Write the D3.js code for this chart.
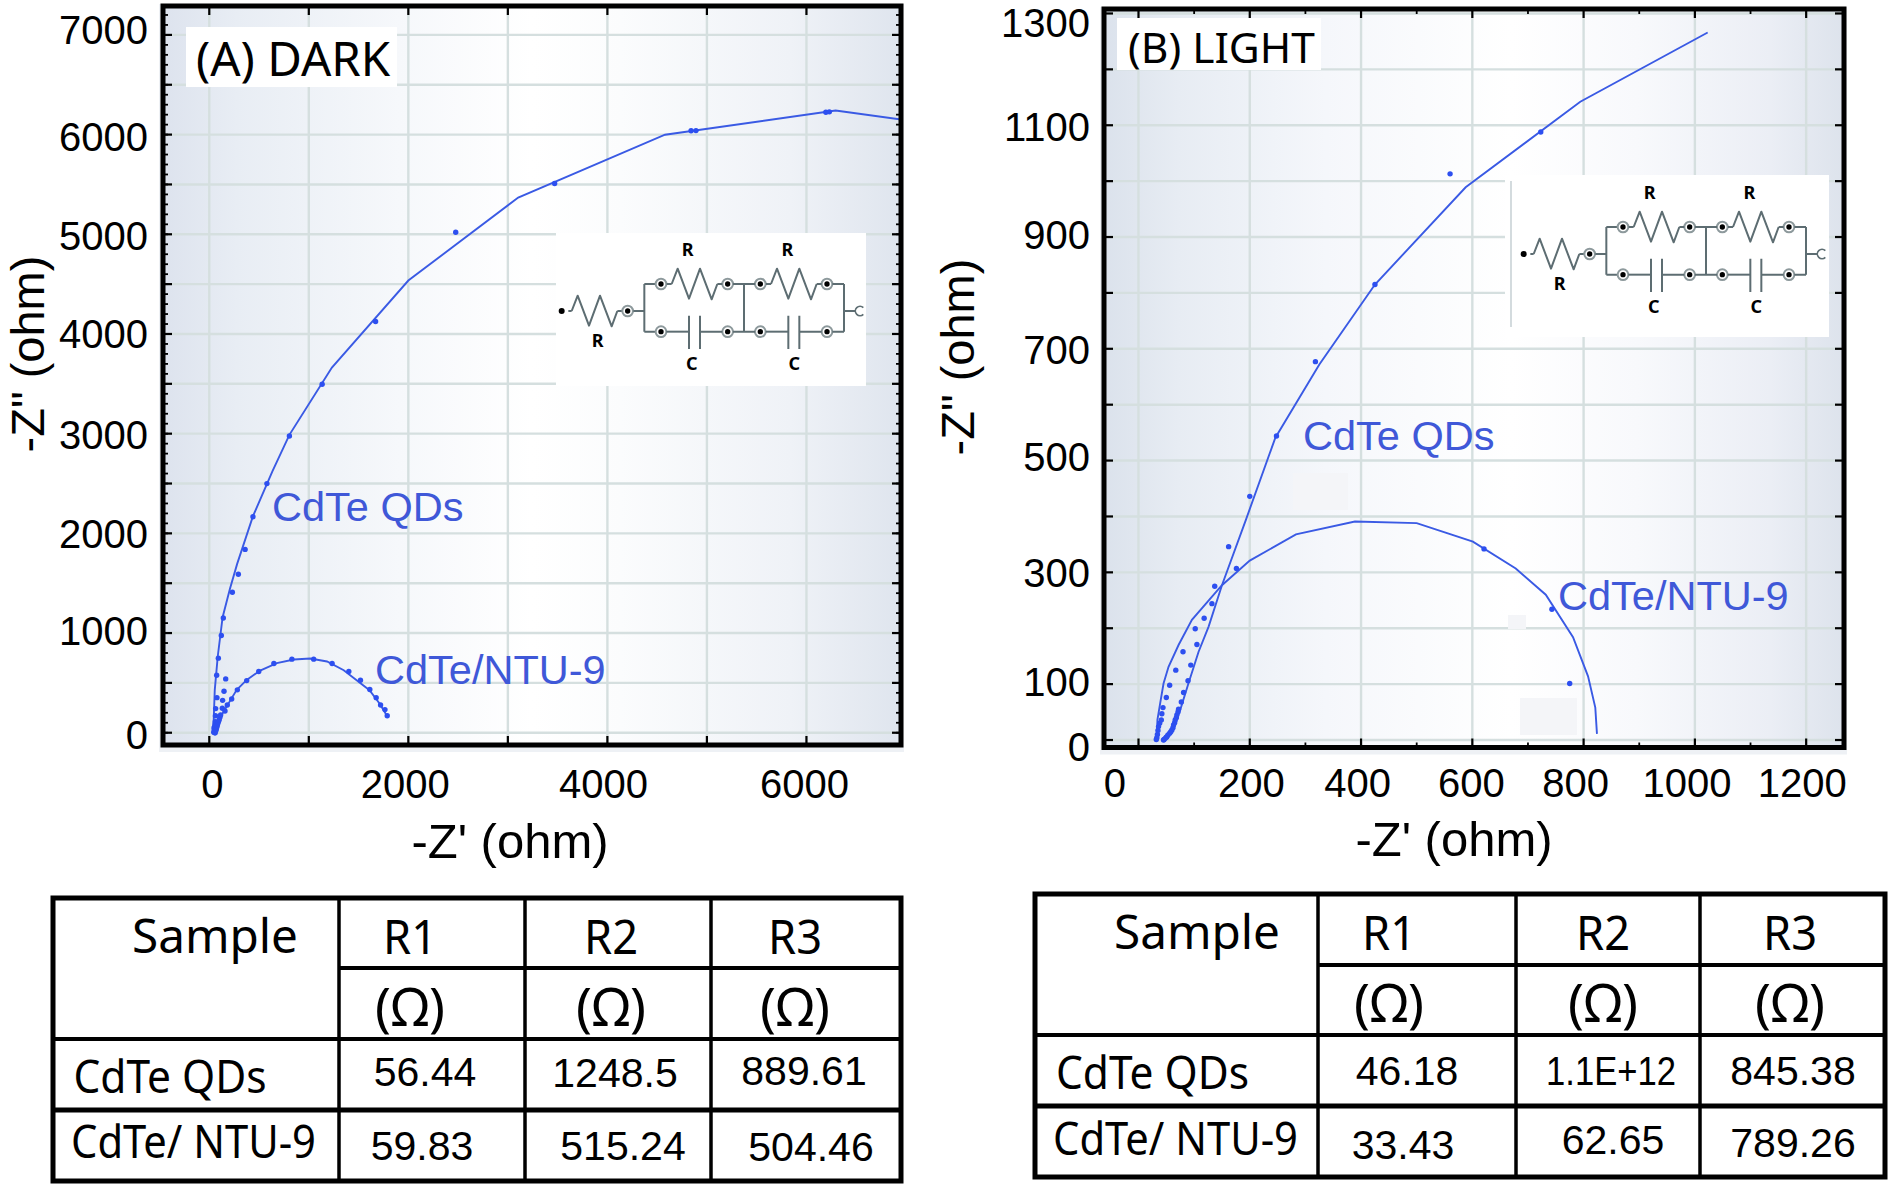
<!DOCTYPE html>
<html lang="en">
<head>
<meta charset="UTF-8">
<title>CdTe impedance</title>
<style>
  html, body { margin: 0; background: #fff; }
  svg { display: block; }
  text { font-family: "Liberation Sans", Arial, sans-serif; fill: #000; }
  .calibri { font-family: "Noto Sans", sans-serif; }
</style>
</head>
<body>
<svg id="chart" width="1890" height="1187"></svg>
<script src="https://d3js.org/d3.v7.min.js"></script>
<script>
// values, [Z', Z'']
const darkQdsFit = [[40,0],[45,146],[55,428],[85,765],[134,1159],[207,1441],[280,1694],[439,2172],[634,2622],[805,2988],[1232,3663],[2000,4536],[3104,5369],[4579,5999],[6293,6241],[7100,6130]]
const darkQdsPts = [[57,0],[52,10],[50,30],[48,50],[55,60],[58,85],[60,110],[62,170],[64,242],[77,352],[74,577],[91,748],[121,976],[141,1151],[232,1409],[292,1590],[360,1839],[439,2167],[579,2499],[805,2977],[1134,3495],[1671,4125],[2476,5020],[3470,5509],[4841,6038],[4890,6040],[6195,6224],[6230,6228]]
const darkNtuFit = [[57,0],[91,94],[124,178],[192,292],[276,430],[376,530],[511,624],[679,698],[850,735],[1014,745],[1183,715],[1351,627],[1610,426],[1714,288],[1785,171]]
const darkNtuPts = [[45,5],[58,0],[65,20],[70,35],[75,55],[80,72],[85,90],[92,110],[100,130],[107,155],[114,178],[165,540],[148,416],[134,325],[131,245],[158,218],[181,278],[225,339],[282,430],[376,523],[497,614],[649,695],[830,738],[1049,738],[1234,695],[1402,614],[1519,527],[1613,433],[1677,352],[1721,278],[1765,232],[1788,171]]

const lightQdsFit = [[45,0],[60,17],[75,54],[90,102],[108,158],[126,203],[150,277],[193,394],[246,541],[325,672],[425,815],[588,989],[794,1142],[1023,1266]]
const lightQdsPts = [[45,0],[46,1],[48,3],[50,5],[51,6],[53,9],[56,12],[58,15],[60,18],[62,22],[63,27],[65,31],[66,36],[68,40],[69,45],[71,50],[72,55],[77,68],[81,85],[89,106],[94,134],[105,171],[132,244],[162,346],[200,436],[248,544],[318,677],[425,815],[560,1013],[723,1088]]
const lightNtuFit = [[33,6],[34,36],[39,66],[45,101],[54,131],[72,170],[96,215],[150,277],[200,321],[283,368],[389,391],[500,388],[601,355],[678,307],[732,260],[781,184],[808,114],[821,58],[824,11]]
const lightNtuPts = [[32,1],[33,4],[34,10],[35,17],[36,24],[38,30],[41,36],[42,47],[44,58],[50,76],[56,98],[67,125],[80,158],[102,199],[118,218],[137,275],[176,307],[621,342],[743,234],[775,101]]

const darkXLabels = [0, 2000, 4000, 6000]
const darkYLabels = [0, 1000, 2000, 3000, 4000, 5000, 6000, 7000]
const lightXLabels = [0, 200, 400, 600, 800, 1000, 1200]
const lightYLabels = [0, 100, 300, 500, 700, 900, 1100, 1300]

const samples = ['CdTe QDs', 'CdTe/ NTU-9']
const tableHead = ['R1', 'R2', 'R3']
const unitHead = '(Ω)'
const darkResist = [['56.44', '1248.5', '889.61'], ['59.83', '515.24', '504.46']]
const lightResist = [['46.18', '1.1E+12', '845.38'], ['33.43', '62.65', '789.26']]

const svg = d3.select('#chart')
const defs = svg.append('defs')
const LINE = '#3a5ae4', DOT = '#2d4ff0', LABEL = '#3f58d8', GRID = '#d5dfdf'

function gradient(id, stops) {
  const g = defs.append('linearGradient').attr('id', id)
  stops.forEach(s => g.append('stop').attr('offset', s[0]).attr('stop-color', s[1]))
}
gradient('bgA', [[0, '#dde3ee'], [0.1, '#e8edf4'], [0.32, '#f6f8fb'], [0.5, '#ffffff'], [0.62, '#fbfcfd'], [0.85, '#eff2f7'], [1, '#dfe5ee']])
gradient('bgB', [[0, '#dbe2ec'], [0.1, '#e7ecf3'], [0.3, '#f5f7fb'], [0.55, '#ffffff'], [0.72, '#f8f9fc'], [0.9, '#ebeef5'], [1, '#dde3ec']])

function panel(o) {
  const g = svg.append('g')
  const x = d3.scaleLinear().domain(o.xDomain).range([o.left, o.right])
  const y = d3.scaleLinear().domain(o.yDomain).range([o.bottom, o.top])

  // pale halo around the frame, then the plot background
  g.append('rect').attr('x', o.left - 4).attr('y', o.top - 2).attr('width', o.right - o.left + 7)
    .attr('height', o.bottom - o.top + 9).attr('fill', '#eef1f5')
  g.append('rect').attr('x', o.left).attr('y', o.top).attr('width', o.right - o.left)
    .attr('height', o.bottom - o.top).attr('fill', `url(#${o.bg})`)

  const clipId = 'clip' + o.bg
  defs.append('clipPath').attr('id', clipId).append('rect')
    .attr('x', o.left).attr('y', o.top).attr('width', o.right - o.left).attr('height', o.bottom - o.top)

  // grid
  const grid = g.append('g').attr('stroke', GRID).attr('stroke-width', 2.4)
  grid.selectAll('.gx').data(o.xGrid).join('line').attr('class', 'gx')
    .attr('x1', d => x(d)).attr('x2', d => x(d)).attr('y1', o.top).attr('y2', o.bottom)
  grid.selectAll('.gy').data(o.yGrid).join('line').attr('class', 'gy')
    .attr('y1', d => y(d)).attr('y2', d => y(d)).attr('x1', o.left).attr('x2', o.right)

  // inset and label boxes sit on the grid
  g.append('rect').attr('x', o.inset[0]).attr('y', o.inset[1]).attr('width', o.inset[2]).attr('height', o.inset[3]).attr('fill', '#fff')
  g.append('rect').attr('x', o.box[0]).attr('y', o.box[1]).attr('width', o.box[2]).attr('height', o.box[3]).attr('fill', '#fff')
  ;(o.patches || []).forEach(p => g.append('rect').attr('x', p[0]).attr('y', p[1]).attr('width', p[2]).attr('height', p[3]).attr('fill', '#f4f5f8'))
  if (o.insetRule) g.append('line').attr('x1', o.insetRule).attr('x2', o.insetRule).attr('y1', o.inset[1] + 6).attr('y2', o.inset[1] + o.inset[3] - 10).attr('stroke', '#c9d2d6').attr('stroke-width', 1.6)

  // series
  const line = d3.line().x(d => x(d[0])).y(d => y(d[1]))
  const plot = g.append('g').attr('clip-path', `url(#${clipId})`)
  o.fits.forEach(f => plot.append('path').attr('d', line(f)).attr('fill', 'none').attr('stroke', LINE).attr('stroke-width', 1.9))
  o.points.forEach(p => plot.append('g').selectAll('circle').data(p).join('circle')
    .attr('cx', d => x(d[0])).attr('cy', d => y(d[1])).attr('r', 2.7).attr('fill', DOT))

  // ticks on all four sides, inward
  const ticks = g.append('g').attr('stroke', '#000')
  const tick = (vals, len, width) => {
    vals.forEach(v => {
      if (x(v) > o.left + 1 && x(v) < o.right - 1) {
        ticks.append('line').attr('x1', x(v)).attr('x2', x(v)).attr('y1', o.bottom).attr('y2', o.bottom - len).attr('stroke-width', width)
        ticks.append('line').attr('x1', x(v)).attr('x2', x(v)).attr('y1', o.top).attr('y2', o.top + len).attr('stroke-width', width)
      }
    })
  }
  const ytick = (vals, len, width) => {
    vals.forEach(v => {
      if (y(v) < o.bottom - 1 && y(v) > o.top + 1) {
        ticks.append('line').attr('y1', y(v)).attr('y2', y(v)).attr('x1', o.left).attr('x2', o.left + len).attr('stroke-width', width)
        ticks.append('line').attr('y1', y(v)).attr('y2', y(v)).attr('x1', o.right).attr('x2', o.right - len).attr('stroke-width', width)
      }
    })
  }
  tick(o.xGrid, 9, 2.2)
  tick(o.xMinor, 5, 1.8)
  ytick(o.yGrid, 9, 2.2)
  ytick(o.yMinor, 5, 1.8)

  g.append('rect').attr('x', o.left).attr('y', o.top).attr('width', o.right - o.left)
    .attr('height', o.bottom - o.top).attr('fill', 'none').attr('stroke', '#000').attr('stroke-width', 5)

  // tick labels were placed by hand in the original, so each has a small nudge
  g.selectAll('.xl').data(o.xLabels).join('text').attr('class', 'xl')
    .attr('x', (d, i) => x(d) + o.xNudge[i]).attr('y', o.xLabelY).attr('text-anchor', 'middle')
    .attr('dominant-baseline', 'central').attr('font-size', 40).text(d => d)
  g.selectAll('.yl').data(o.yLabels).join('text').attr('class', 'yl')
    .attr('x', o.yLabelX).attr('y', (d, i) => y(d) + o.yNudge[i]).attr('text-anchor', 'end')
    .attr('dominant-baseline', 'central').attr('font-size', 40).text(d => d)

  g.append('text').attr('x', o.xTitle[0]).attr('y', o.xTitle[1]).attr('text-anchor', 'middle')
    .attr('dominant-baseline', 'central').attr('font-size', 49).text("-Z' (ohm)")
  g.append('text').attr('transform', `translate(${o.yTitle[0]},${o.yTitle[1]}) rotate(-90)`).attr('text-anchor', 'middle')
    .attr('dominant-baseline', 'central').attr('font-size', 47).text('-Z" (ohm)')

  g.append('text').attr('class', 'calibri').attr('x', o.tag[0]).attr('y', o.tag[1]).attr('font-size', o.tag[2])
    .attr('dominant-baseline', 'central').text(o.tagText)

  o.names.forEach(n => g.append('text').attr('x', n[1]).attr('y', n[2]).attr('font-size', 41.5)
    .attr('dominant-baseline', 'central').style('fill', LABEL).text(n[0]))

  circuit(g.append('g').attr('transform', `translate(${o.circuit[0]},${o.circuit[1]}) scale(${1 / 3})`))
}

// equivalent circuit, drawn on a 3x grid
function circuit(g) {
  const wire = '#5d6d72'
  const path = d => g.append('path').attr('d', d).attr('fill', 'none').attr('stroke', wire).attr('stroke-width', 6).attr('stroke-linejoin', 'round')
  const node = (cx, cy) => {
    g.append('circle').attr('cx', cx).attr('cy', cy).attr('r', 16).attr('fill', '#fff').attr('stroke', '#8d999c').attr('stroke-width', 6)
    g.append('circle').attr('cx', cx).attr('cy', cy).attr('r', 8).attr('fill', '#000')
  }
  const label = (t, cx, cy) => g.append('text').attr('class', 'calibri').attr('x', cx).attr('y', cy).attr('text-anchor', 'middle')
    .attr('dominant-baseline', 'central').attr('font-weight', 700).attr('font-size', 54).text(t)
  const zig = (sx, sy) => `M${sx},${sy}L${sx + 18},${sy - 46}L${sx + 52},${sy + 44}L${sx + 85},${sy - 46}L${sx + 120},${sy + 46}L${sx + 137},${sy}`

  g.append('circle').attr('cx', 65).attr('cy', 258).attr('r', 9).attr('fill', '#000')
  path('M85,258H95')
  path(zig(95, 258))
  path('M232,258H248')
  node(263, 258)
  path('M280,258H313M313,177V320M313,177H347M313,320H347')
  ;[0, 298].forEach(d => {
    node(363 + d, 177); node(563 + d, 177)
    node(363 + d, 320); node(563 + d, 320)
    path(zig(395 + d, 177))
    path(`M${532 + d},177H${547 + d}`)
    path(`M${379 + d},320H${447 + d}`)
    path(`M${447 + d},272V372M${480 + d},272V372M${480 + d},320H${547 + d}`)
    path(`M${380 + d},177H${395 + d}`)
  })
  path('M579,177H645M579,320H645M612,177V320M877,177H912M877,320H912M912,177V320M912,258H945')
  g.append('path').attr('d', 'M970,248A14,14 0 1 0 970,268').attr('fill', 'none').attr('stroke', wire).attr('stroke-width', 5)
  label('R', 443, 72); label('R', 742, 72); label('R', 173, 345); label('C', 455, 415); label('C', 763, 415)
}

function table(o, rows) {
  const g = svg.append('g')
  const rule = (x1, y1, x2, y2, w) => g.append('line').attr('x1', x1).attr('y1', y1).attr('x2', x2).attr('y2', y2).attr('stroke', '#000').attr('stroke-width', w)
  g.append('rect').attr('x', o.cols[0]).attr('y', o.rows[0]).attr('width', o.cols[4] - o.cols[0]).attr('height', o.rows[4] - o.rows[0])
    .attr('fill', '#fff').attr('stroke', '#000').attr('stroke-width', 5)
  o.cols.slice(1, 4).forEach(c => rule(c, o.rows[0], c, o.rows[4], 3.5))
  rule(o.cols[1], o.rows[1], o.cols[4], o.rows[1], 4)
  rule(o.cols[0], o.rows[2], o.cols[4], o.rows[2], 4)
  rule(o.cols[0], o.rows[3], o.cols[4], o.rows[3], 5)

  const cal = (t, x, y, size, len, anchor) => g.append('text').attr('class', 'calibri').attr('x', x).attr('y', y)
    .attr('text-anchor', anchor).attr('dominant-baseline', 'central').attr('font-size', size)
    .attr('textLength', len).attr('lengthAdjust', 'spacingAndGlyphs').text(t)
  cal('Sample', o.sample[0], o.sample[1], 47, 166, 'middle')
  tableHead.forEach((h, i) => {
    cal(h, o.headX[i], o.sample[1], 48, 54, 'middle')
    cal(unitHead, o.headX[i], o.unitY, 53, 70, 'middle')
  })
  samples.forEach((s, i) => {
    cal(s, o.nameX[i], o.nameY[i], 45, i ? 245 : 193, 'start')
    rows[i].forEach((v, j) => g.append('text').attr('x', o.valX[i][j]).attr('y', o.valY[i][j]).attr('text-anchor', 'middle')
      .attr('dominant-baseline', 'central').attr('font-size', 41)
      .attr('textLength', v.includes('E') ? 130 : null).attr('lengthAdjust', 'spacingAndGlyphs').text(v))
  })
}

panel({
  bg: 'bgA', left: 163, right: 901, top: 6, bottom: 745,
  xDomain: [-465, 6950], yDomain: [-123, 7290],
  xGrid: d3.range(0, 6001, 1000), xMinor: [],
  yGrid: d3.range(0, 7001, 500), yMinor: d3.range(0, 7301, 100),
  xLabels: darkXLabels, yLabels: darkYLabels,
  xNudge: [3, -3, -4, -2], yNudge: [2, -2, 1, 1, 0, 2, 2.5, -5],
  xLabelY: 784, yLabelX: 148,
  xTitle: [510, 841], yTitle: [27, 354],
  inset: [556, 233, 310, 153], box: [186, 27, 211, 60],
  tag: [196, 57, 47.5], tagText: '(A) DARK',
  fits: [darkQdsFit, darkNtuFit], points: [darkQdsPts, darkNtuPts],
  names: [['CdTe QDs', 272, 506], ['CdTe/NTU-9', 375, 669]],
  circuit: [540, 225]
})

panel({
  bg: 'bgB', left: 1104, right: 1844, top: 9, bottom: 747.5,
  xDomain: [-62, 1268], yDomain: [-13.4, 1308],
  xGrid: d3.range(0, 1201, 200), xMinor: d3.range(100, 1201, 200),
  yGrid: d3.range(0, 1301, 100), yMinor: [],
  xLabels: lightXLabels, yLabels: lightYLabels,
  xNudge: [-23.5, 1.5, -3.5, -1, -8, -8, -4], yNudge: [7, -2, 1, -3.5, 1, -2, 1.5, 10],
  xLabelY: 783, yLabelX: 1090,
  xTitle: [1454, 839], yTitle: [957, 357],
  inset: [1505, 175, 324, 162], box: [1117, 18, 204, 52], insetRule: 1511,
  tag: [1128, 46, 42.5], tagText: '(B) LIGHT',
  fits: [lightQdsFit, lightNtuFit], points: [lightQdsPts, lightNtuPts],
  names: [['CdTe QDs', 1303, 435], ['CdTe/NTU-9', 1558, 595]],
  patches: [[1293, 473, 55, 37], [1508, 615, 18, 14], [1520, 698, 57, 37]],
  circuit: [1502, 168]
})

table({
  cols: [53, 339, 525, 711, 901], rows: [898, 968, 1039, 1110, 1181],
  sample: [215, 935], unitY: 1005, headX: [410, 611, 795],
  nameX: [73.5, 71], nameY: [1075, 1140],
  valX: [[425, 615, 804], [422, 623, 811]], valY: [[1072, 1073, 1071], [1146, 1146, 1147]]
}, darkResist)

table({
  cols: [1035, 1318, 1516, 1700, 1885], rows: [894, 965, 1035, 1106, 1177],
  sample: [1197, 931], unitY: 1001, headX: [1389, 1603, 1790],
  nameX: [1056, 1053], nameY: [1071, 1137],
  valX: [[1407, 1611, 1793], [1403, 1613, 1793]], valY: [[1071, 1071, 1071], [1145, 1140, 1143]]
}, lightResist)
</script>
</body>
</html>
